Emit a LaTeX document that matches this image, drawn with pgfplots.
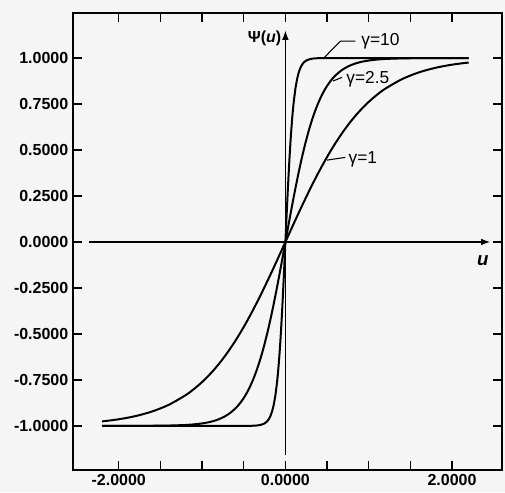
\documentclass[border=0pt]{standalone}
\usepackage{fontspec}
\setmainfont{Liberation Sans}
\usepackage{pgfplots}
\pgfplotsset{compat=1.18}
\usetikzlibrary{arrows.meta,backgrounds}

\pgfplotstableread{
u y
-2.2 -0.9757
-2.0 -0.9640
-1.8 -0.9468
-1.6 -0.9217
-1.4 -0.8854
-1.2 -0.8337
-1.1 -0.8005
-1.0 -0.7616
-0.9 -0.7163
-0.8 -0.6640
-0.7 -0.6044
-0.6 -0.5370
-0.5 -0.4621
-0.4 -0.3799
-0.3 -0.2913
-0.2 -0.1974
-0.1 -0.0997
0.0 0.0
0.1 0.0997
0.2 0.1974
0.3 0.2913
0.4 0.3799
0.5 0.4621
0.6 0.5370
0.7 0.6044
0.8 0.6640
0.9 0.7163
1.0 0.7616
1.1 0.8005
1.2 0.8337
1.4 0.8854
1.6 0.9217
1.8 0.9468
2.0 0.9640
2.2 0.9757
}\gone

\pgfplotstableread{
u y
-2.2 -1.0
-2.0 -0.9999
-1.6 -0.9993
-1.4 -0.9982
-1.2 -0.9951
-1.1 -0.9918
-1.0 -0.9866
-0.92 -0.9801
-0.84 -0.9705
-0.76 -0.9562
-0.68 -0.9354
-0.60 -0.9051
-0.56 -0.8854
-0.52 -0.8617
-0.48 -0.8337
-0.44 -0.8005
-0.40 -0.7616
-0.36 -0.7163
-0.32 -0.6640
-0.28 -0.6044
-0.24 -0.5370
-0.20 -0.4621
-0.16 -0.3799
-0.12 -0.2913
-0.08 -0.1974
-0.04 -0.0997
0.0 0.0
0.04 0.0997
0.08 0.1974
0.12 0.2913
0.16 0.3799
0.20 0.4621
0.24 0.5370
0.28 0.6044
0.32 0.6640
0.36 0.7163
0.40 0.7616
0.44 0.8005
0.48 0.8337
0.52 0.8617
0.56 0.8854
0.60 0.9051
0.68 0.9354
0.76 0.9562
0.84 0.9705
0.92 0.9801
1.0 0.9866
1.1 0.9918
1.2 0.9951
1.4 0.9982
1.6 0.9993
2.0 0.9999
2.2 1.0
}\gtwo

\pgfplotstableread{
u y
-2.2 -1.0
-0.5 -0.9999
-0.4 -0.9993
-0.35 -0.9982
-0.30 -0.9951
-0.25 -0.9866
-0.22 -0.9757
-0.20 -0.9640
-0.18 -0.9468
-0.16 -0.9217
-0.14 -0.8854
-0.12 -0.8337
-0.10 -0.7616
-0.09 -0.7163
-0.08 -0.6640
-0.07 -0.6044
-0.06 -0.5370
-0.05 -0.4621
-0.04 -0.3799
-0.03 -0.2913
-0.02 -0.1974
-0.01 -0.0997
0.0 0.0
0.01 0.0997
0.02 0.1974
0.03 0.2913
0.04 0.3799
0.05 0.4621
0.06 0.5370
0.07 0.6044
0.08 0.6640
0.09 0.7163
0.10 0.7616
0.12 0.8337
0.14 0.8854
0.16 0.9217
0.18 0.9468
0.20 0.9640
0.22 0.9757
0.25 0.9866
0.30 0.9951
0.35 0.9982
0.40 0.9993
0.50 0.9999
2.2 1.0
}\gten

\begin{document}
\begin{tikzpicture}
\begin{axis}[
  scale only axis, width=322pt, height=343pt,
  xmin=-2.55, xmax=2.6, ymin=-1.24, ymax=1.245,
  axis line style={line width=1.1pt},
  xtick={-2,-1.5,...,2},
  xticklabels={-2.0000,,,,0.0000,,,,2.0000},
  ytick={-1,-0.75,-0.5,-0.25,0,0.25,0.5,0.75,1},
  yticklabels={-1.0000,-0.7500,-0.5000,-0.2500,0.0000,0.2500,0.5000,0.7500,1.0000},
  tick style={line width=1pt, black},
  major tick length=7pt,
  tick align=inside,
  ticklabel style={font=\fontsize{12}{14}\selectfont\bfseries},
  clip=false,
]
\addplot[black, line width=1.5pt, smooth] table[x=u,y=y] {\gone};
\addplot[black, line width=1.5pt, smooth] table[x=u,y=y] {\gtwo};
\addplot[black, line width=1.5pt] table[x=u,y=y] {\gten};
\draw[line width=1pt, -{Latex[length=7pt,width=5pt]}] (axis cs:-2.36,0) -- (axis cs:2.46,0);
\draw[line width=1pt, -{Latex[length=7pt,width=5pt]}] (axis cs:0,-1.158) -- (axis cs:0,1.15);
\node[font=\fontsize{12}{14}\selectfont\bfseries] at (axis cs:-0.25,1.105) {Ψ(\textit{u})};
\node[font=\fontsize{14}{14}\selectfont\bfseries] at (axis cs:2.37,-0.10) {\textit{u}};
\draw[line width=0.8pt] (axis cs:0.45,0.995) -- (axis cs:0.66,1.092) -- (axis cs:0.84,1.092);
\node[font=\fontsize{13}{14}\selectfont] at (axis cs:1.14,1.09) {γ=10};
\draw[line width=0.8pt] (axis cs:0.57,0.875) -- (axis cs:0.68,0.895);
\node[font=\fontsize{13}{14}\selectfont] at (axis cs:0.99,0.885) {γ=2.5};
\draw[line width=0.8pt] (axis cs:0.5,0.445) -- (axis cs:0.72,0.46);
\node[font=\fontsize{13}{14}\selectfont] at (axis cs:0.93,0.45) {γ=1};
\end{axis}
\begin{scope}[on background layer]
\fill[black!4] ([shift={(-54.75pt,-16.5pt)}]current axis.south west) rectangle ([shift={(2.25pt,9.75pt)}]current axis.north east);
\end{scope}
\end{tikzpicture}
\end{document}
